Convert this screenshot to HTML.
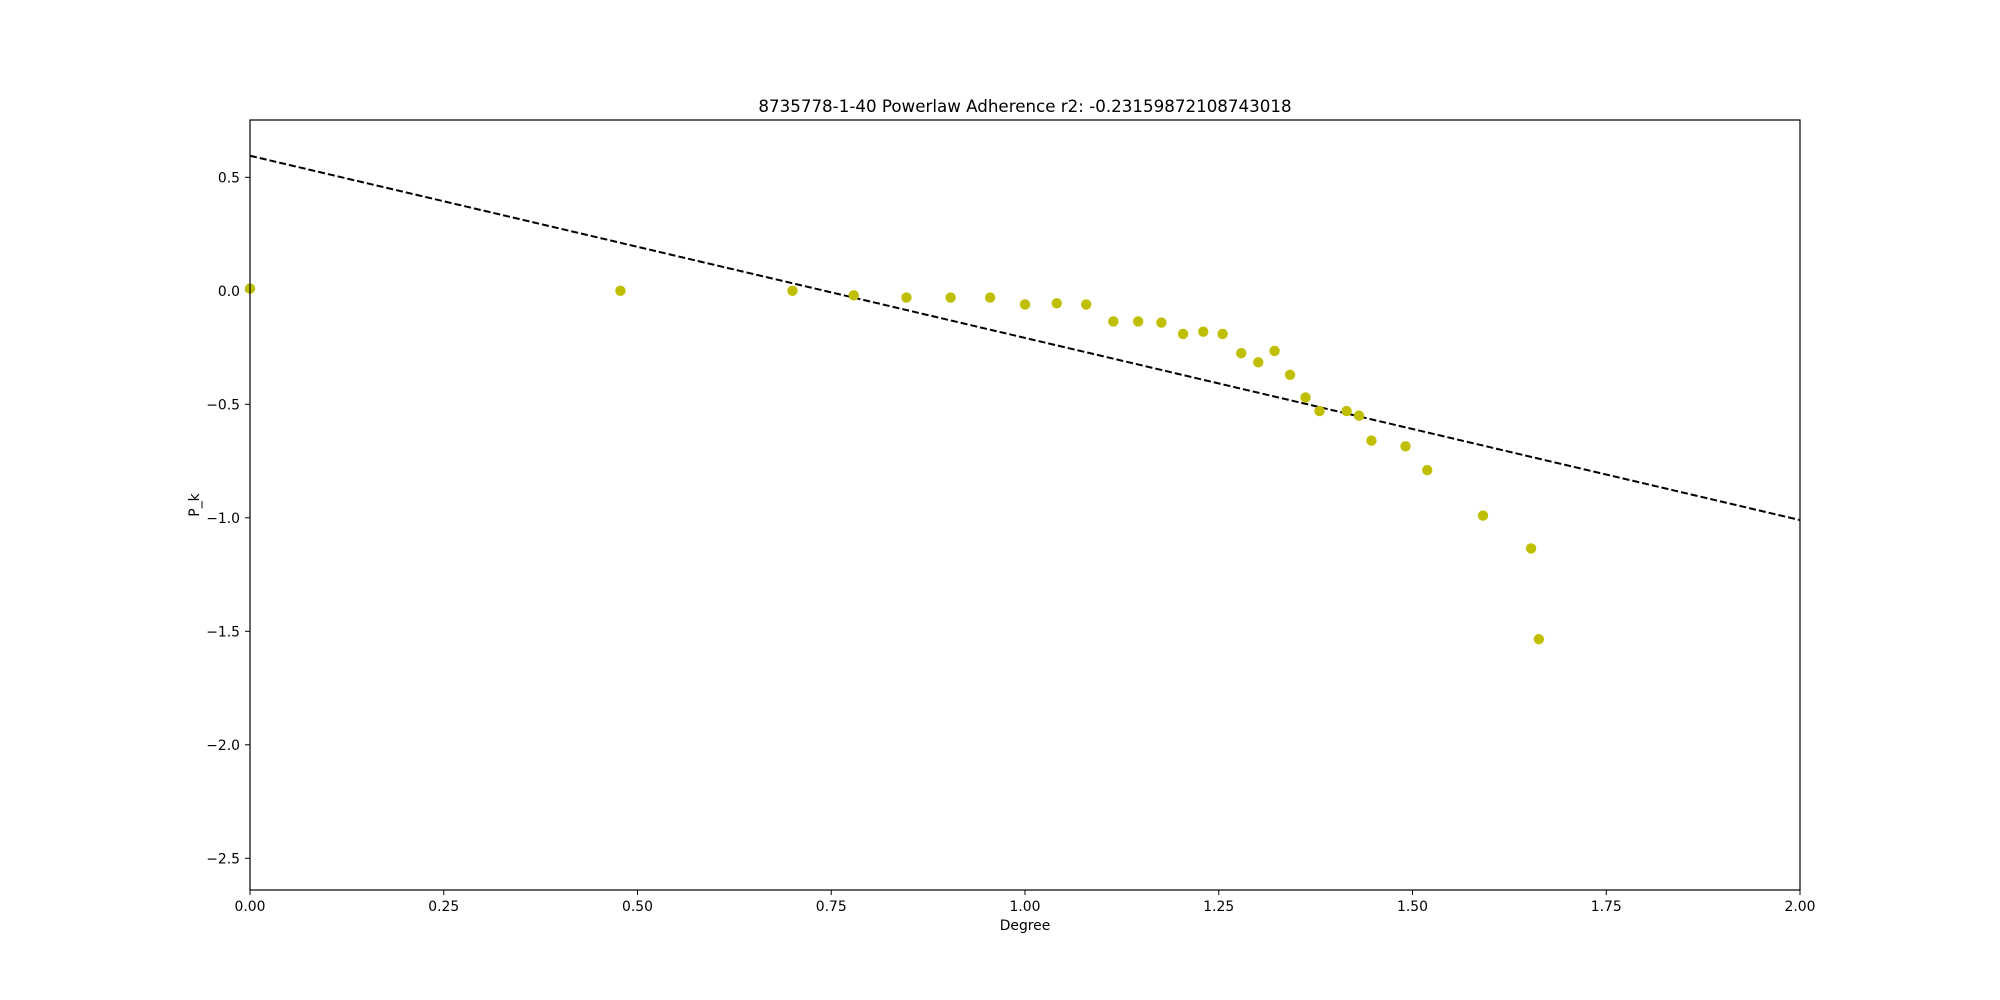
<!DOCTYPE html>
<html><head><meta charset="utf-8"><style>
html,body{margin:0;padding:0;background:#fff;}
svg{display:block;font-family:"DejaVu Sans","Liberation Sans",sans-serif;}
</style></head><body>
<svg id="chart" width="2000" height="1000" viewBox="0 0 2000 1000" xmlns="http://www.w3.org/2000/svg">
<rect width="2000" height="1000" fill="#fff"/>
<text x="1025" y="112" font-size="16.7" text-anchor="middle">8735778-1-40 Powerlaw Adherence r2: -0.23159872108743018</text>
<g id="ticks"></g>
<g id="marks"></g>
<rect x="250" y="120" width="1550" height="770" fill="none" stroke="#000" stroke-width="1.2"/>
<text x="1025" y="930" font-size="13.9" text-anchor="middle">Degree</text>
<text transform="translate(199,505) rotate(-90)" font-size="13.9" text-anchor="middle">P_k</text>
</svg>
<script>
const degrees = [0, 0.478, 0.700, 0.779, 0.847, 0.904, 0.955, 1.0, 1.041, 1.079, 1.114, 1.146, 1.176, 1.204, 1.230, 1.255, 1.279, 1.301, 1.322, 1.342, 1.362, 1.380, 1.415, 1.431, 1.447, 1.491, 1.519, 1.591, 1.653, 1.663];
const pk = [0.01, 0, 0, -0.02, -0.03, -0.03, -0.03, -0.06, -0.055, -0.06, -0.135, -0.135, -0.14, -0.19, -0.18, -0.19, -0.275, -0.315, -0.265, -0.37, -0.47, -0.53, -0.53, -0.55, -0.66, -0.685, -0.79, -0.99, -1.135, -1.535];
const fitX = [0, 2];
const fitY = [0.595, -1.01];
const xTicks = [0, 0.25, 0.5, 0.75, 1.0, 1.25, 1.5, 1.75, 2.0];
const xTickLabels = ["0.00","0.25","0.50","0.75","1.00","1.25","1.50","1.75","2.00"];
const yTicks = [0.5, 0, -0.5, -1.0, -1.5, -2.0, -2.5];
const yTickLabels = ["0.5","0.0","\u22120.5","\u22121.0","\u22121.5","\u22122.0","\u22122.5"];

const NS = "http://www.w3.org/2000/svg";
const X = v => 250 + v * 775;
const Y = v => 290.8 - v * 227.0;
function mk(tag, attrs, parent){ const e=document.createElementNS(NS,tag); for(const k in attrs) e.setAttribute(k,attrs[k]); parent.appendChild(e); return e; }
const tg=document.getElementById('ticks'), mg=document.getElementById('marks');
xTicks.forEach((t,i)=>{
  const l=mk('line',{x1:X(t),x2:X(t),y1:890,y2:895,stroke:'#000','stroke-width':1},tg);
  
  
  const tx=mk('text',{x:X(t),y:911,'font-size':13.9,'text-anchor':'middle'},tg);
  tx.textContent=xTickLabels[i];
  
  
});
yTicks.forEach((t,i)=>{
  const l=mk('line',{x1:245,x2:250,y1:Y(t),y2:Y(t),stroke:'#000','stroke-width':1},tg);
  
  
  const tx=mk('text',{x:240,y:Y(t)+5,'font-size':13.9,'text-anchor':'end'},tg);
  tx.textContent=yTickLabels[i];
  
  
});
const fit=mk('line',{x1:X(fitX[0]),y1:Y(fitY[0]),x2:X(fitX[1]),y2:Y(fitY[1]),stroke:'#000','stroke-width':2,'stroke-dasharray':'7,3'},mg);


degrees.forEach((d,i)=>{
  const c=mk('circle',{cx:X(d),cy:Y(pk[i]),r:5.2,fill:'#bfbf00'},mg);
  
  
});
</script>
</body></html>
